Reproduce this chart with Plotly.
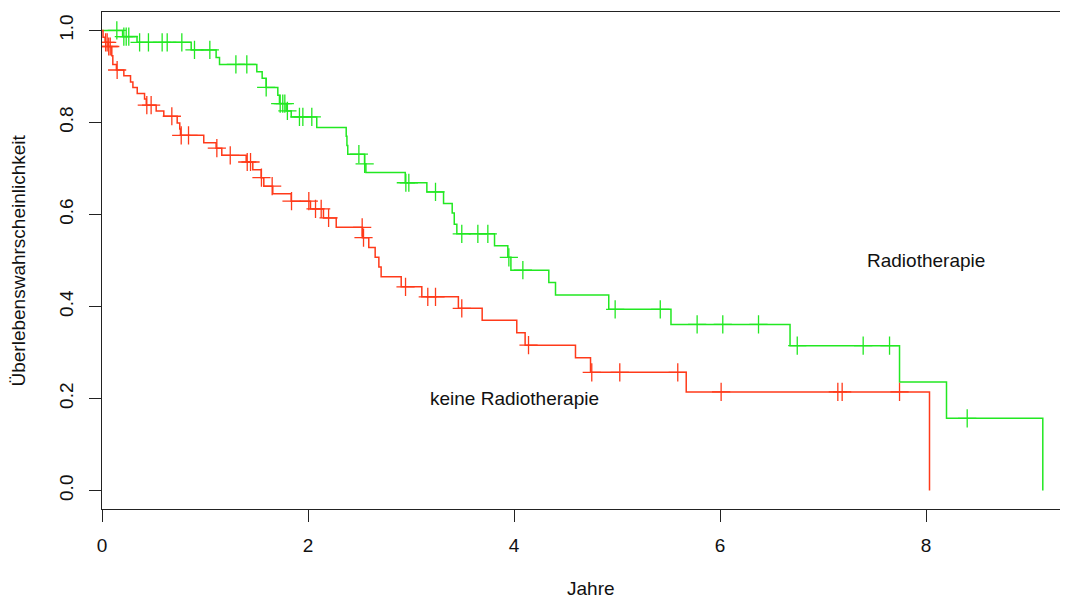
import numpy as np
import plotly.graph_objects as go

# Kaplan-Meier step data: group "Radiotherapie" (green)
rt_times = [0, 0.20, 0.34, 0.866, 1.108, 1.141, 1.503, 1.555, 1.594, 1.707, 1.723, 1.788,
            1.837, 2.085, 2.371, 2.378, 2.386, 2.549, 2.562, 2.944, 3.154, 3.316, 3.40,
            3.42, 3.445, 3.811, 3.94, 3.97, 4.338, 4.403, 4.92, 5.524, 6.68, 7.743, 8.199, 9.134]
rt_surv = [1.0, 0.9865, 0.974, 0.9575, 0.941, 0.926, 0.910, 0.896, 0.876, 0.859, 0.841, 0.825,
           0.812, 0.789, 0.770, 0.750, 0.731, 0.710, 0.691, 0.669, 0.649, 0.624, 0.603,
           0.579, 0.558, 0.532, 0.507, 0.479, 0.452, 0.425, 0.394, 0.361, 0.315, 0.236, 0.157, 0.0]
rt_censor = [0.144, 0.212, 0.235, 0.26, 0.365, 0.451, 0.584, 0.633, 0.775, 0.898, 1.047, 1.30,
             1.406, 1.594, 1.73, 1.755, 1.775, 1.80, 1.917, 1.95, 2.037, 2.494, 2.55, 2.95,
             2.979, 3.238, 3.493, 3.649, 3.746, 3.95, 4.086, 4.982, 5.42, 5.778, 6.027, 6.374,
             6.75, 7.39, 7.646, 8.40]

# group "keine Radiotherapie" (red)
no_times = [0, 0.01, 0.03, 0.06, 0.095, 0.105, 0.14, 0.212, 0.277, 0.30, 0.342, 0.413, 0.43,
            0.526, 0.60, 0.73, 0.755, 0.762, 0.988, 1.108, 1.163, 1.40, 1.464, 1.545, 1.571,
            1.658, 1.837, 2.024, 2.15, 2.274, 2.528, 2.59, 2.652, 2.688, 2.71, 2.905, 3.105,
            3.46, 3.691, 4.027, 4.108, 4.597, 4.743, 5.672, 8.034]
no_surv = [1.0, 0.985, 0.974, 0.965, 0.945, 0.926, 0.914, 0.9015, 0.888, 0.876, 0.863, 0.851, 0.8375,
           0.825, 0.8135, 0.799, 0.786, 0.772, 0.756, 0.744, 0.7285, 0.714, 0.697, 0.680, 0.6615,
           0.645, 0.629, 0.612, 0.5926, 0.572, 0.5496, 0.528, 0.507, 0.486, 0.4646, 0.4427, 0.421,
           0.396, 0.370, 0.343, 0.316, 0.2886, 0.257, 0.2145, 0.0]
no_censor = [0.035, 0.05, 0.065, 0.08, 0.147, 0.435, 0.477, 0.678, 0.769, 0.84, 1.115, 1.245,
             1.41, 1.442, 1.548, 1.652, 1.84, 2.008, 2.073, 2.128, 2.20, 2.526, 2.539, 2.947,
             3.163, 3.238, 3.493, 4.141, 4.755, 5.027, 5.59, 6.011, 7.144, 7.186, 7.743]

x_ticks = [0, 2, 4, 6, 8]
y_ticks = [0.0, 0.2, 0.4, 0.6, 0.8, 1.0]
y_ticklabels = ["0.0", "0.2", "0.4", "0.6", "0.8", "1.0"]

GREEN = "#22e822"
RED = "#ff3a1a"
FONT = "Liberation Sans, Arial, sans-serif"

PLOT_W = 974  # plot area runs past the right edge of the window, as in the reference
PX_PER_YEAR = 103


def surv_at(times, surv, c):
    idx = np.searchsorted(np.array(times), c, side="right") - 1
    return [surv[i] for i in idx]


fig = go.Figure()
for times, surv, cens, col in [(rt_times, rt_surv, rt_censor, GREEN),
                               (no_times, no_surv, no_censor, RED)]:
    fig.add_trace(go.Scatter(x=times, y=surv, mode="lines", line=dict(color=col, width=1.5, shape="hv"),
                             showlegend=False, hoverinfo="skip"))
    fig.add_trace(go.Scatter(x=cens, y=surv_at(times, surv, cens), mode="markers",
                             marker=dict(symbol="cross-thin", size=13, line=dict(color=col, width=1.3)),
                             showlegend=False, hoverinfo="skip"))

fig.add_annotation(x=8, y=0.5, text="Radiotherapie", showarrow=False,
                   font=dict(family=FONT, size=19, color="#111"))
fig.add_annotation(x=4, y=0.2, text="keine Radiotherapie", showarrow=False,
                   font=dict(family=FONT, size=19, color="#111"))
fig.add_annotation(xref="paper", yref="paper", x=0, y=0.5, xshift=-84, text="Überlebenswahrscheinlichkeit",
                   textangle=-90, showarrow=False, xanchor="center", yanchor="middle",
                   font=dict(family=FONT, size=19, color="#111"))
fig.add_annotation(xref="paper", yref="paper", x=(591 - 102) / PLOT_W, y=0, yshift=-79, text="Jahre",
                   showarrow=False, xanchor="center", yanchor="middle",
                   font=dict(family=FONT, size=19, color="#111"))

# page body adds an 8px offset, so margins are shifted by 8px
fig.update_layout(
    width=94 + PLOT_W, height=592,
    margin=dict(l=94, r=0, t=4, b=91),
    plot_bgcolor="white", paper_bgcolor="white",
    font=dict(family=FONT, size=19, color="#111"),
    xaxis=dict(range=[0, PLOT_W / PX_PER_YEAR], tickvals=x_ticks, showgrid=False, zeroline=False,
               showline=True, linecolor="#222", linewidth=1.2, mirror=True,
               ticks="outside", ticklen=12, tickcolor="#222", tickwidth=1.2,
               ticklabelstandoff=7),
    yaxis=dict(range=[-0.04, 1.04], tickvals=y_ticks, ticktext=y_ticklabels, showgrid=False,
               zeroline=False, showline=True, linecolor="#222", linewidth=1.2, mirror=False,
               ticks="outside", ticklen=12, tickcolor="#222", tickwidth=1.2, tickangle=-90,
               ticklabelstandoff=8),
)

fig.write_html("out.html")
